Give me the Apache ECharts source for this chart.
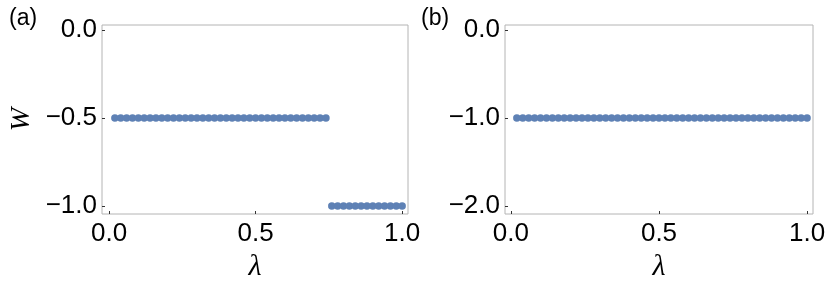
<!DOCTYPE html>
<html><head><meta charset="utf-8">
<script src="https://cdn.jsdelivr.net/npm/echarts@6/dist/echarts.min.js"></script>
<style>html,body{margin:0;padding:0;background:#fff}#c{width:830px;height:281px}</style>
</head><body><div id="c"></div>
<script>
// λ values 0.02 .. 1.00
const lambdaA = [0.02,0.04,0.06,0.08,0.10,0.12,0.14,0.16,0.18,0.20,0.22,0.24,0.26,0.28,0.30,0.32,0.34,0.36,0.38,0.40,0.42,0.44,0.46,0.48,0.50,0.52,0.54,0.56,0.58,0.60,0.62,0.64,0.66,0.68,0.70,0.72,0.74,0.76,0.78,0.80,0.82,0.84,0.86,0.88,0.90,0.92,0.94,0.96,0.98,1.00];
const wA = [-0.5,-0.5,-0.5,-0.5,-0.5,-0.5,-0.5,-0.5,-0.5,-0.5,-0.5,-0.5,-0.5,-0.5,-0.5,-0.5,-0.5,-0.5,-0.5,-0.5,-0.5,-0.5,-0.5,-0.5,-0.5,-0.5,-0.5,-0.5,-0.5,-0.5,-0.5,-0.5,-0.5,-0.5,-0.5,-0.5,-0.5,-1,-1,-1,-1,-1,-1,-1,-1,-1,-1,-1,-1,-1];
const lambdaB = lambdaA.slice();
const wB = [-1,-1,-1,-1,-1,-1,-1,-1,-1,-1,-1,-1,-1,-1,-1,-1,-1,-1,-1,-1,-1,-1,-1,-1,-1,-1,-1,-1,-1,-1,-1,-1,-1,-1,-1,-1,-1,-1,-1,-1,-1,-1,-1,-1,-1,-1,-1,-1,-1,-1];
const xTicks = [0, 0.5, 1.0];
const yTicksA = [0, -0.5, -1.0];
const yTicksB = [0, -1.0, -2.0];
const panelLabels = ['(a)', '(b)'];
const xName = 'λ';
const yName = 'W';

const fmt = v => (v < 0 ? '\u2212' : '') + Math.abs(v).toFixed(1);
const FONT = 'Liberation Sans';
const SERIF = 'Liberation Serif';
const color = '#5e81b5';

function xAx(gi, min, max) {
  return {
    type: 'value', gridIndex: gi, min: min, max: max,
    axisLine: {show: false, onZero: false}, splitLine: {show: false},
    axisTick: {show: true, inside: true, length: 3, lineStyle: {color: '#333'}, customValues: xTicks},
    axisLabel: {show: true, customValues: xTicks, formatter: fmt, fontSize: 26, color: '#000', fontFamily: FONT, margin: 7},
    name: xName, nameLocation: 'middle', nameGap: 33,
    nameTextStyle: {fontSize: 30, fontStyle: 'italic', fontFamily: SERIF, color: '#000'}
  };
}
function yAx(gi, min, max, ticks, name) {
  return {
    type: 'value', gridIndex: gi, min: min, max: max,
    axisLine: {show: false, onZero: false}, splitLine: {show: false},
    axisTick: {show: true, inside: true, length: 3, lineStyle: {color: '#333'}, customValues: ticks},
    axisLabel: {show: true, customValues: ticks, formatter: fmt, fontSize: 26, color: '#000', fontFamily: FONT, margin: 5},
    name: name, nameLocation: 'middle', nameGap: 66, nameRotate: 90,
    nameTextStyle: {fontSize: 28, fontStyle: 'italic', fontFamily: SERIF, color: '#000'}
  };
}

const chart = echarts.init(document.getElementById('c'), null, {renderer: 'canvas'});
chart.setOption({
  animation: false,
  backgroundColor: '#fff',
  grid: [
    {left: 102, top: 25, width: 306, height: 189, show: true, borderColor: '#b4b4b4', borderWidth: 1, backgroundColor: 'transparent', containLabel: false, outerBoundsMode: 'none'},
    {left: 505, top: 25, width: 308, height: 189, show: true, borderColor: '#b4b4b4', borderWidth: 1, backgroundColor: 'transparent', containLabel: false, outerBoundsMode: 'none'}
  ],
  title: [
    {text: panelLabels[0], left: 4, top: 2, textStyle: {fontSize: 23, fontWeight: 'normal', fontFamily: FONT, color: '#000'}},
    {text: panelLabels[1], left: 416, top: 2, textStyle: {fontSize: 23, fontWeight: 'normal', fontFamily: FONT, color: '#000'}}
  ],
  xAxis: [xAx(0, -0.024, 1.02), xAx(1, -0.02, 1.02)],
  yAxis: [yAx(0, -1.045, 0.028, yTicksA, yName), yAx(1, -2.09, 0.057, yTicksB, '')],
  series: [
    {type: 'scatter', xAxisIndex: 0, yAxisIndex: 0, symbol: 'circle', symbolSize: 7.5,
     itemStyle: {color: color, opacity: 1}, data: lambdaA.map((x, i) => [x, wA[i]])},
    {type: 'scatter', xAxisIndex: 1, yAxisIndex: 1, symbol: 'circle', symbolSize: 7.5,
     itemStyle: {color: color, opacity: 1}, data: lambdaB.map((x, i) => [x, wB[i]])}
  ]
});
</script></body></html>
